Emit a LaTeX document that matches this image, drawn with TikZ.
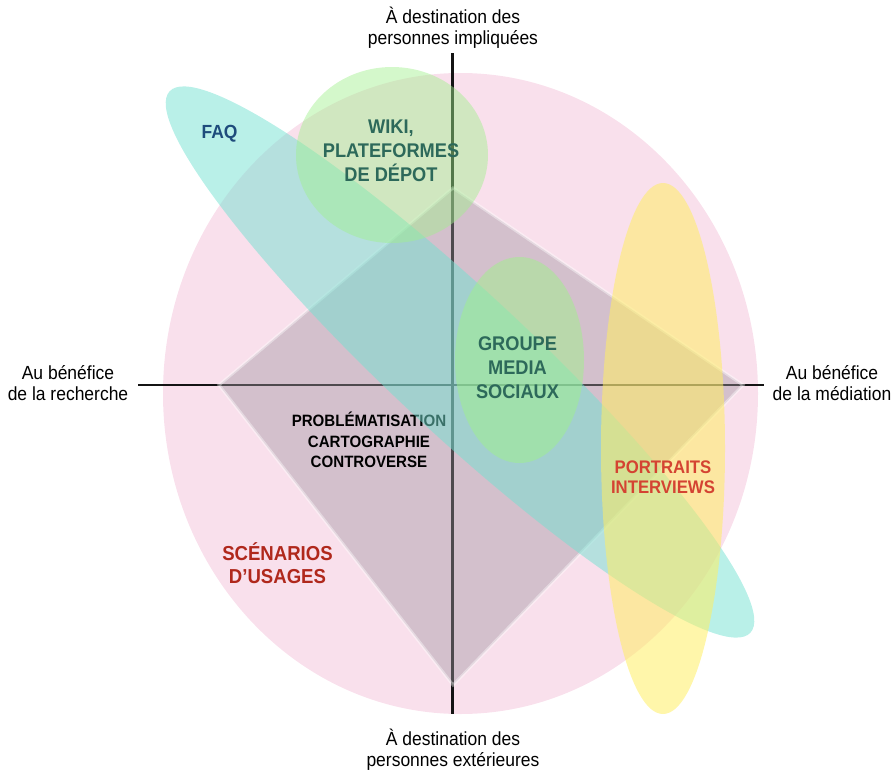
\documentclass[tikz,border=0pt]{standalone}
\usepackage{fontspec}
\setmainfont{Liberation Sans}
\newfontfamily\condsans{Liberation Sans}[FakeStretch=0.92]
\definecolor{pinkc}{RGB}{249,224,236}
\definecolor{diamc}{RGB}{160,150,160}
\definecolor{tealc}{RGB}{115,225,209}
\definecolor{greenc}{RGB}{160,240,140}
\definecolor{yellowc}{RGB}{255,238,100}
\definecolor{faqc}{RGB}{30,76,124}
\definecolor{wikic}{RGB}{45,105,90}
\definecolor{portc}{RGB}{212,67,50}
\definecolor{scenc}{RGB}{176,40,28}
\tikzset{
  axislabel/.style={align=center, inner sep=0pt, font=\condsans\fontsize{19}{21}\selectfont},
  biglabel/.style={align=center, inner sep=0pt, font=\condsans\bfseries\fontsize{19.8}{23.8}\selectfont},
  axisline/.style={line width=2.6pt, black!92},
}
\begin{document}
\begin{tikzpicture}[x=1pt,y=-1pt]
\useasboundingbox (0,0) rectangle (892,771);
% pink background ellipse
\fill[pinkc] (460.5,393.5) ellipse [x radius=297.5pt, y radius=320.5pt];
% axes
\coordinate (axL) at (138,385);
\coordinate (axR) at (764,385);
\coordinate (axT) at (452.5,53);
\coordinate (axB) at (452.5,714);
\draw[axisline] (axL) -- (axR);
\draw[axisline] (axT) -- (axB);
% diamond
\coordinate (dT) at (453,188);
\coordinate (dR) at (743,385);
\coordinate (dB) at (453,685);
\coordinate (dL) at (219,385);
\filldraw[fill=diamc, fill opacity=0.42, draw=white, draw opacity=0.4, line width=3pt, line join=miter]
  (dT) -- (dR) -- (dB) -- (dL) -- cycle;
\node[biglabel, font=\condsans\bfseries\fontsize{16.4}{20.2}\selectfont] (probl) at (369,440)
  {PROBLÉMATISATION\\CARTOGRAPHIE\\CONTROVERSE};
% teal ellipse (FAQ)
\fill[tealc, fill opacity=0.5, rotate around={-43:(460,362)}] (460,362) ellipse [x radius=397pt, y radius=70pt];
% green ellipses
\fill[greenc, fill opacity=0.45] (392,155) ellipse [x radius=96pt, y radius=88pt];
\fill[greenc, fill opacity=0.5] (519.5,360) ellipse [x radius=64.5pt, y radius=103pt];
% yellow ellipse
\fill[yellowc, fill opacity=0.55] (663,448.5) ellipse [x radius=62pt, y radius=265.5pt];
% labels
\node[biglabel, text=faqc, font=\condsans\bfseries\fontsize{19}{23}\selectfont] (faq) at (219.5,134) {FAQ};
\node[biglabel, text=wikic] (wiki) at (391,151) {WIKI,\\PLATEFORMES\\DE DÉPOT};
\node[biglabel, text=wikic, font=\condsans\bfseries\fontsize{19.8}{24}\selectfont] (groupe) at (517.5,368) {GROUPE\\MEDIA\\SOCIAUX};
\node[biglabel, text=portc, font=\condsans\bfseries\fontsize{18.2}{20.5}\selectfont] (portraits) at (663,477) {PORTRAITS\\INTERVIEWS};
\node[biglabel, text=scenc, font=\condsans\bfseries\fontsize{20.2}{23.5}\selectfont] (scen) at (277.5,563) {SCÉNARIOS\\D’USAGES};
% axis labels
\node[axislabel] (top) at (453,28) {À destination des\\personnes impliquées};
\node[axislabel] (bot) at (453,750) {À destination des\\personnes extérieures};
\node[axislabel] (left) at (68,383) {Au bénéfice\\de la recherche};
\node[axislabel] (right) at (832,383) {Au bénéfice\\de la médiation};
\end{tikzpicture}
\end{document}
